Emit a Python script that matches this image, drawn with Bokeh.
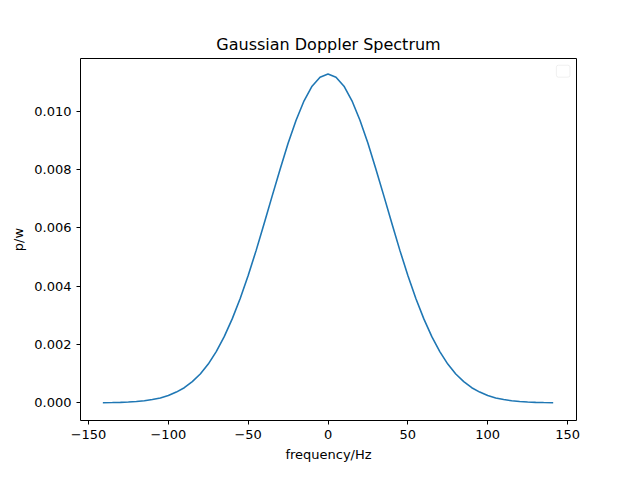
from bokeh.plotting import figure
from bokeh.models import Range1d, SingleIntervalTicker, BoxAnnotation, PrintfTickFormatter
from bokeh.embed import file_html
from bokeh.resources import INLINE

# values (right half; the curve is symmetric in the picture)
freq_half = [0, 5, 10, 15, 20, 25, 30, 35, 40, 45, 50, 55, 60, 65, 70, 75, 80, 85,
             90, 95, 100, 105, 110, 115, 120, 125, 130, 135, 141]
power_half = [0.01128, 0.01117, 0.01086, 0.01036, 0.00969, 0.00890, 0.00801, 0.00709,
              0.00615, 0.00523, 0.00437, 0.00358, 0.00288, 0.00227, 0.00176, 0.00133,
              0.00099, 0.00073, 0.00052, 0.00037, 0.00025, 0.00017, 0.000114, 0.000074,
              0.000048, 0.00003, 0.000019, 0.000011, 0.000006]
freq = [-f for f in freq_half[:0:-1]] + freq_half
power = power_half[:0:-1] + power_half

FONT = "DejaVu Sans"

p = figure(width=624, height=464, output_backend="svg", toolbar_location=None,
           title="Gaussian Doppler Spectrum", x_axis_label="frequency/Hz", y_axis_label="p/w",
           min_border_left=80, min_border_right=48, min_border_top=58, min_border_bottom=36)
p.x_range = Range1d(-155, 155.6)
p.y_range = Range1d(-0.000604, 0.01181)

p.line(freq, power, line_color="#1f77b4", line_width=1.6)

p.title.align = "center"
p.title.text_font = FONT
p.title.text_font_size = "16px"
p.title.text_font_style = "normal"
p.title.text_color = "black"

p.xgrid.visible = False
p.ygrid.visible = False
p.outline_line_color = "black"
p.outline_line_width = 1

p.xaxis.ticker = SingleIntervalTicker(interval=50)
p.yaxis.ticker = SingleIntervalTicker(interval=0.002)
p.yaxis.formatter = PrintfTickFormatter(format="%.3f")
for ax in (p.xaxis, p.yaxis):
    ax.minor_tick_line_color = None
    ax.major_tick_in = 0
    ax.major_tick_out = 4
    ax.axis_line_color = None
    ax.major_label_text_font = FONT
    ax.major_label_text_font_size = "13px"
    ax.major_label_text_color = "black"
    ax.axis_label_text_font = FONT
    ax.axis_label_text_font_size = "13px"
    ax.axis_label_text_font_style = "normal"
    ax.axis_label_text_color = "black"

# empty legend box, as in the reference
p.add_layout(BoxAnnotation(left=143, right=151.5, top=0.01158, bottom=0.01117,
                           fill_color="white", fill_alpha=0.8,
                           line_color="#cccccc", line_width=1, border_radius=2))

open("out.html", "w").write(file_html(p, INLINE))
